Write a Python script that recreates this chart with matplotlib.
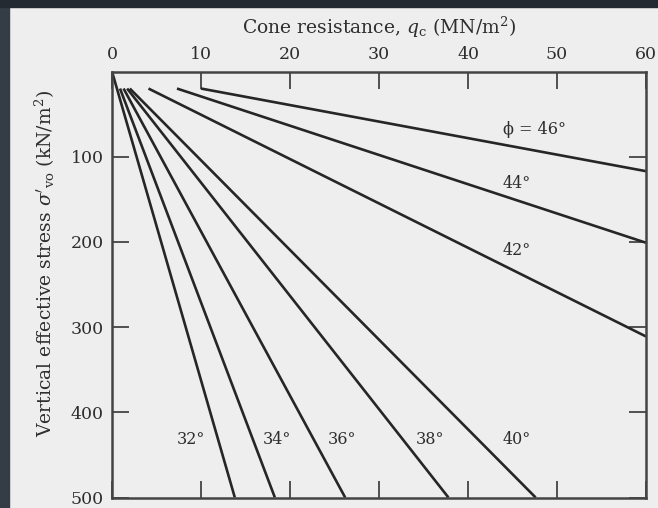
import matplotlib
matplotlib.use("Agg")
import matplotlib.pyplot as plt
from matplotlib.patches import Rectangle

plt.rcParams['font.family'] = ['DejaVu Serif']
plt.rcParams['mathtext.fontset'] = 'dejavuserif'

# friction angle lines: start and end points (q_c in MN/m2, sigma'_vo in kN/m2)
phi = [32, 34, 36, 38, 40, 42, 44, 46]
q_start = [0, 0.9, 1.3, 1.7, 2.0, 4.1, 7.3, 10.0]
s_start = [0, 20, 20, 20, 20, 20, 20, 20]
q_end = [13.8, 18.3, 26.2, 37.8, 47.6, 60, 60, 60]
s_end = [500, 500, 500, 500, 500, 311, 201, 117]

# label text and where it sits
label_text = ["32°", "34°", "36°", "38°", "40°", "42°", "44°", "ϕ = 46°"]
label_q = [8.9, 18.5, 25.8, 35.7, 45.5, 45.5, 45.5, 47.5]
label_s = [432, 432, 432, 432, 432, 210, 131, 68]

x_ticks = [0, 10, 20, 30, 40, 50, 60]
y_ticks = [100, 200, 300, 400, 500]

ink = "#262626"
txt = "#2e2e2e"
paper = "#eeeeee"

fig = plt.figure(figsize=(6.58, 5.08), dpi=100, facecolor=paper)
# dark edges around the page
fig.patches.append(Rectangle((0, 0), 1, 1, transform=fig.transFigure, color=paper, zorder=-3))
fig.patches.append(Rectangle((0, 0), 9 / 658, 1, transform=fig.transFigure, color="#343c45", zorder=-2))
fig.patches.append(Rectangle((0, 1 - 7 / 508), 1, 7 / 508, transform=fig.transFigure, color="#242a31", zorder=-1))

ax = fig.add_axes([112 / 658, 1 - 497.5 / 508, 534 / 658, 426 / 508])
ax.set_facecolor("none")

for i in range(len(phi)):
    ax.plot([q_start[i], q_end[i]], [s_start[i], s_end[i]], color=ink, lw=1.9, solid_capstyle="butt")

for t, q, s in zip(label_text, label_q, label_s):
    ax.text(q, s, t, ha="center", va="center", fontsize=11.5, color=txt)

ax.set_xlim(0, 60)
ax.set_ylim(500, 0)
ax.set_xticks(x_ticks)
ax.set_yticks(y_ticks)
ax.tick_params(direction="in", length=12, width=1.3, color="#444444",
               top=True, bottom=True, left=True, right=True,
               labeltop=True, labelbottom=False, labelsize=12.5, labelcolor=txt, pad=6)
for sp in ax.spines.values():
    sp.set_linewidth(1.8)
    sp.set_color("#444444")

fig.text(379 / 658, 1 - 27 / 508, r"Cone resistance, $q_{\rm c}$ (MN/m$^2$)",
         ha="center", va="center", fontsize=13.5, color=txt)
fig.text(45 / 658, 1 - 264 / 508, r"Vertical effective stress $\sigma'_{\rm vo}$ (kN/m$^2$)",
         ha="center", va="center", rotation=90, fontsize=13.5, color=txt)

fig.savefig("out.png", dpi=100, facecolor=paper)
